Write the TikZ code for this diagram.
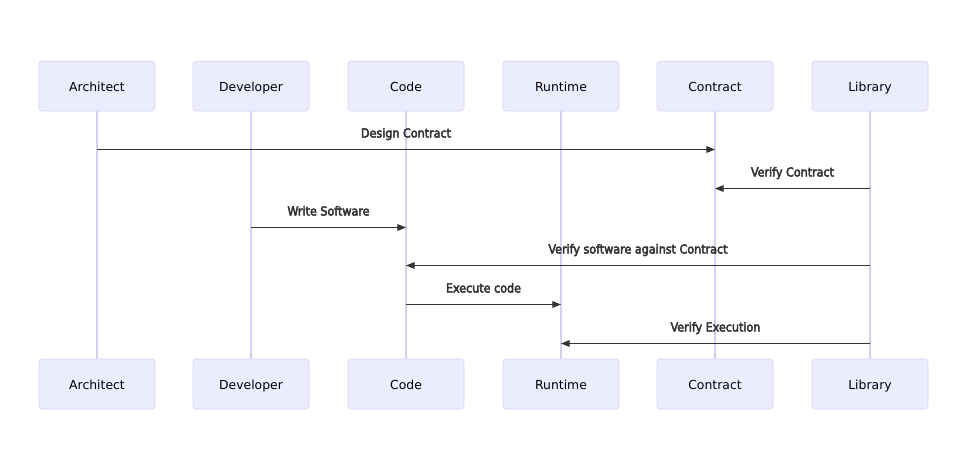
\documentclass[tikz,border=0pt]{standalone}
\usepackage{fontspec}
\setmainfont{DejaVu Sans}
\newfontfamily\msgfont{DejaVu Sans Condensed}
\newcommand\heavytext[1]{\special{pdf:literal direct 2 Tr 0.35 w}#1\special{pdf:literal direct 0 Tr}}
\usetikzlibrary{arrows.meta}
\definecolor{actorfill}{HTML}{ECECFF}
\definecolor{actorline}{HTML}{D9CFF2}
\definecolor{msgcolor}{HTML}{333333}

\begin{document}
\begin{tikzpicture}[x=0.75pt,y=-0.75pt,
                actor/.style={rectangle,rounded corners=2.25pt,draw=actorline,fill=actorfill,minimum width=87pt,minimum height=37.5pt,text height=8pt,text depth=0.5pt,font=\fontsize{9.3}{11}\selectfont,text=black},
                lifeline/.style={draw=actorline,line width=0.8pt},
                msg/.style={draw=msgcolor,line width=0.8pt,-{Triangle[length=6.5pt,width=5pt]}},
                msglabel/.style={font=\msgfont\fontsize{9.3}{11}\selectfont,text=msgcolor,anchor=base,yshift=9pt},
            ]
                \useasboundingbox (0,0) rectangle (967,471);

                \node[actor] (architect) at (97,86) {Architect};
                \node[actor] (developer) at (251,86) {Developer};
                \node[actor] (code) at (406,86) {Code};
                \node[actor] (runtime) at (561,86) {Runtime};
                \node[actor] (contract) at (715,86) {Contract};
                \node[actor] (library) at (870,86) {Library};

                \node[actor] (architect2) at (97,384) {Architect};
                \node[actor] (developer2) at (251,384) {Developer};
                \node[actor] (code2) at (406,384) {Code};
                \node[actor] (runtime2) at (561,384) {Runtime};
                \node[actor] (contract2) at (715,384) {Contract};
                \node[actor] (library2) at (870,384) {Library};

% lifelines
                \draw[lifeline] (architect) -- (architect2);
                \draw[lifeline] (developer) -- (developer2);
                \draw[lifeline] (code) -- (code2);
                \draw[lifeline] (runtime) -- (runtime2);
                \draw[lifeline] (contract) -- (contract2);
                \draw[lifeline] (library) -- (library2);

% message rows
                \coordinate (m1) at (0,149.5);
                \coordinate (m2) at (0,188.5);
                \coordinate (m3) at (0,227.5);
                \coordinate (m4) at (0,265.5);
                \coordinate (m5) at (0,304.5);
                \coordinate (m6) at (0,343.5);

                \draw[msg] (architect |- m1) -- node[msglabel] {\heavytext{Design Contract}} (contract |- m1);
                \draw[msg] (library |- m2) -- node[msglabel] {\heavytext{Verify Contract}} (contract |- m2);
                \draw[msg] (developer |- m3) -- node[msglabel] {\heavytext{Write Software}} (code |- m3);
                \draw[msg] (library |- m4) -- node[msglabel] {\heavytext{Verify software against Contract}} (code |- m4);
                \draw[msg] (code |- m5) -- node[msglabel] {\heavytext{Execute code}} (runtime |- m5);
                \draw[msg] (library |- m6) -- node[msglabel] {\heavytext{Verify Execution}} (runtime |- m6);
            \end{tikzpicture}
\end{document}
